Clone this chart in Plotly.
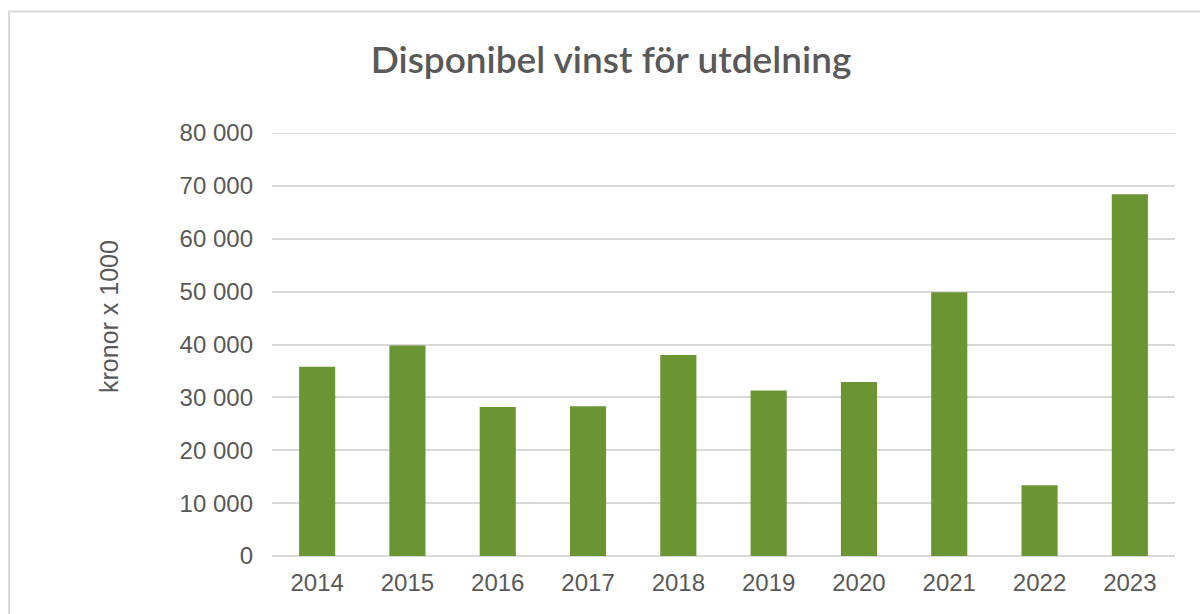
import plotly.graph_objects as go

years = ["2014", "2015", "2016", "2017", "2018", "2019", "2020", "2021", "2022", "2023"]
vinst = [35800, 39800, 28200, 28300, 38000, 31300, 32900, 49900, 13400, 68400]
y_ticks = [0, 10000, 20000, 30000, 40000, 50000, 60000, 70000, 80000]

TXT = "#595959"
GRID = "#d9d9d9"
W, H = 1200, 614
L, R, T, B = 272, 25, 133, 58
PW, PH = W - L - R, H - T - B


def px_x(p):
    return (p - L) / PW


def px_y(p):
    return (H - B - p) / PH


fig = go.Figure(go.Bar(x=years, y=vinst, marker=dict(color="#6b9532", line=dict(width=0))))

fig.update_layout(
    width=W, height=H,
    margin=dict(l=L, r=R, t=T, b=B),
    paper_bgcolor="white", plot_bgcolor="white",
    separators=", ",
    bargap=0.6,
    showlegend=False,
    title=dict(text="Disponibel vinst för utdelning", x=611 / W, xanchor="center",
               y=1 - 60 / H, yanchor="middle",
               font=dict(family="Lato", size=37, color=TXT, weight=600)),
    font=dict(family="Liberation Sans", color=TXT),
)
fig.update_yaxes(range=[0, y_ticks[-1]], tickvals=y_ticks, tickformat=",d",
                 showgrid=True, gridcolor=GRID, gridwidth=1.5,
                 zeroline=True, zerolinecolor=GRID, zerolinewidth=1.5,
                 showline=False, ticks="", ticklabelstandoff=18,
                 tickfont=dict(size=24, color=TXT))
fig.update_xaxes(showline=False, ticks="", ticklabelstandoff=10, tickfont=dict(size=24, color=TXT))

# top gridline (at the upper edge of the value axis)
fig.add_shape(type="line", xref="paper", yref="y", x0=0, x1=1,
              y0=y_ticks[-1], y1=y_ticks[-1], line=dict(color=GRID, width=1.5), layer="below")

fig.add_annotation(text="kronor x 1000", textangle=-90, showarrow=False,
                   xref="paper", yref="paper", x=px_x(109), y=px_y(317),
                   xanchor="center", yanchor="middle",
                   font=dict(family="Liberation Sans", size=25, color=TXT))

# outer chart frame (left and top edges visible)
fig.add_shape(type="rect", xref="paper", yref="paper",
              x0=px_x(9), x1=px_x(1215),
              y0=px_y(630), y1=px_y(11.5),
              line=dict(color=GRID, width=2), layer="below")

fig.write_html("out.html", config={"displayModeBar": False},
               post_script="document.body.style.margin='0';document.body.style.overflow='hidden';")
